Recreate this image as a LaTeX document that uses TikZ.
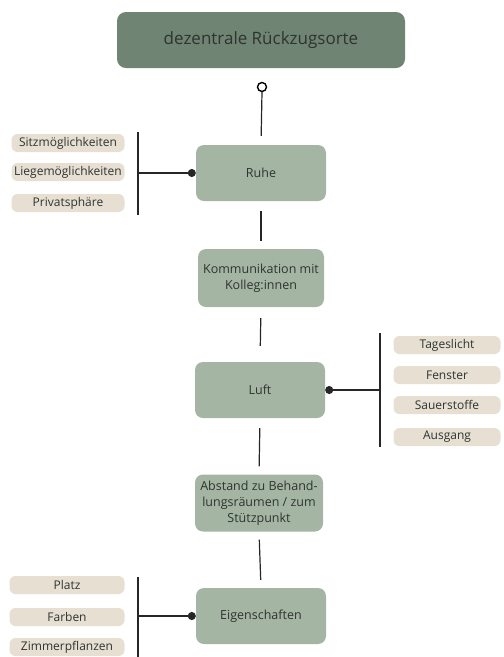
\documentclass[tikz,border=0pt]{standalone}
\usepackage{fontspec}
\setmainfont{Open Sans}
\usepackage{tikz}
\usetikzlibrary{arrows.meta}

\definecolor{titlegreen}{HTML}{6F8472}
\definecolor{boxgreen}{HTML}{A5B5A3}
\definecolor{tagbeige}{HTML}{E6DFD2}
\definecolor{textdark}{HTML}{2E3430}

\tikzset{
  titlebox/.style = {fill=titlegreen, rounded corners=9pt, minimum width=288pt, minimum height=56pt, font=\fontsize{17}{20}\selectfont, text=textdark},
  mainbox/.style = {fill=boxgreen, rounded corners=8pt, minimum width=130pt, minimum height=56pt, align=center, font=\fontsize{12.5}{16}\selectfont, text=textdark},
  tagbox/.style = {fill=tagbeige, rounded corners=6pt, minimum height=18pt, font=\fontsize{12}{14}\selectfont, text=textdark, inner sep=0pt},
  link/.style = {line width=1.2pt, draw=black!85},
}

\begin{document}
\begin{tikzpicture}[x=1pt, y=-1pt]
        \useasboundingbox (0,0) rectangle (504,657);

        % Title
        \node[titlebox] (title) at (261,40) {dezentrale Rückzugsorte};
        \node[circle, draw, line width=1.4pt, inner sep=0pt, minimum size=9pt] (top) at (262,87) {};

        % Main column
        \node[mainbox] (ruhe) at (261,173) {Ruhe};
        \node[mainbox, minimum width=126pt, minimum height=58pt, inner sep=1pt] (komm) at (261,278) {Kommunikation mit\\Kolleg:innen};
        \node[mainbox] (luft) at (260,390) {Luft};
        \node[mainbox, minimum width=128pt, minimum height=57pt, inner sep=1pt] (abstand) at (259,503) {Abstand zu Behand-\\lungsräumen / zum\\Stützpunkt};
        \node[mainbox] (eigen) at (261,616) {Eigenschaften};

        % Connectors between main boxes
        \draw[link, shorten >=9pt] (top.south) -- (ruhe.north);
        \draw[link, shorten <=10pt, shorten >=8pt] (ruhe.south) -- (komm.north);
        \draw[link, shorten <=11pt, shorten >=16pt] (komm.south) -- (luft.north);
        \draw[link, shorten <=10pt, shorten >=8pt] (luft.south) -- (abstand.north);
        \draw[link, shorten <=8pt, shorten >=8pt] (abstand.south) -- (eigen.north);

        % Ruhe - left tags
        \node[tagbox, minimum width=113pt] (sitz) at (68,143) {Sitzmöglichkeiten};
        \node[tagbox, minimum width=113pt] (liege) at (68,172) {Liegemöglichkeiten};
        \node[tagbox, minimum width=113pt] (privat) at (68,203) {Privatsphäre};
        \coordinate (ruheA) at (138,132);
        \coordinate (ruheB) at (138,215);
        \draw[link] (ruheA) -- (ruheB);
        \draw[link, {Circle[length=8pt]}-] (ruhe.west) -- (ruheA |- ruhe.west);

        % Luft - right tags
        \node[tagbox, minimum width=107pt] (tages) at (447,345) {Tageslicht};
        \node[tagbox, minimum width=107pt] (fenster) at (447,375) {Fenster};
        \node[tagbox, minimum width=107pt] (sauer) at (447,405) {Sauerstoffe};
        \node[tagbox, minimum width=107pt] (ausgang) at (447,437) {Ausgang};
        \coordinate (luftA) at (380,333);
        \coordinate (luftB) at (380,447);
        \draw[link] (luftA) -- (luftB);
        \draw[link, {Circle[length=8pt]}-] (luft.east) -- (luftA |- luft.east);

        % Eigenschaften - left tags
        \node[tagbox, minimum width=115pt] (platz) at (67,585) {Platz};
        \node[tagbox, minimum width=115pt] (farben) at (67,617) {Farben};
        \node[tagbox, minimum width=115pt] (pflanzen) at (67,647) {Zimmerpflanzen};
        \coordinate (eigenA) at (138,577);
        \coordinate (eigenB) at (138,657);
        \draw[link] (eigenA) -- (eigenB);
        \draw[link, {Circle[length=8pt]}-] (eigen.west) -- (eigenA |- eigen.west);
\end{tikzpicture}
\end{document}
